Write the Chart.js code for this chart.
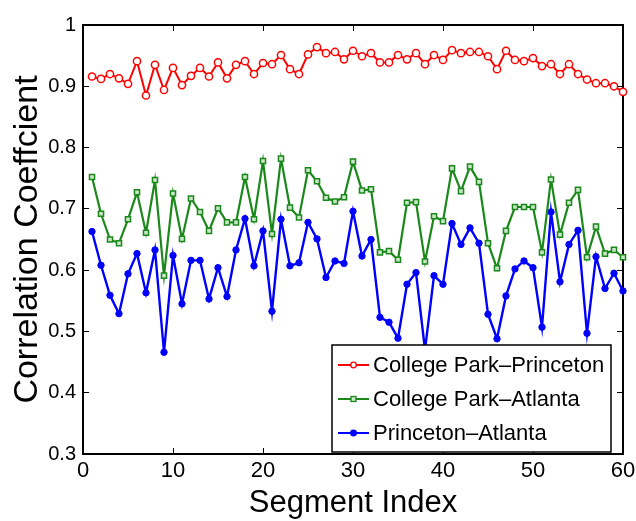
<!DOCTYPE html>
<html>
<head>
<meta charset="utf-8">
<title>Correlation Coefficient</title>
<script src="https://cdn.jsdelivr.net/npm/chart.js@4/dist/chart.umd.min.js"></script>
<style>
  html, body { margin: 0; padding: 0; background: #fff; }
  canvas { display: block; }
</style>
</head>
<body>
<canvas id="chart" width="636" height="521"></canvas>
<script>
// segment indices (x values)
const segmentIndex = [
  1, 2, 3, 4, 5, 6, 7, 8, 9, 10, 11, 12, 13, 14, 15, 16, 17, 18, 19, 20,
  21, 22, 23, 24, 25, 26, 27, 28, 29, 30, 31, 32, 33, 34, 35, 36, 37, 38, 39, 40,
  41, 42, 43, 44, 45, 46, 47, 48, 49, 50, 51, 52, 53, 54, 55, 56, 57, 58, 59, 60
];

const seriesNames = ["College Park\u2013Princeton", "College Park\u2013Atlanta", "Princeton\u2013Atlanta"];

// values
const collegeParkPrinceton = [
  0.916, 0.912, 0.920, 0.913, 0.904, 0.941, 0.885, 0.935, 0.894, 0.930,
  0.902, 0.917, 0.930, 0.916, 0.939, 0.913, 0.935, 0.941, 0.920, 0.938,
  0.936, 0.951, 0.928, 0.920, 0.952, 0.964, 0.954, 0.956, 0.944, 0.958,
  0.949, 0.954, 0.939, 0.939, 0.951, 0.944, 0.954, 0.936, 0.951, 0.943,
  0.959, 0.954, 0.956, 0.956, 0.949, 0.928, 0.958, 0.943, 0.941, 0.946,
  0.933, 0.936, 0.920, 0.936, 0.920, 0.911, 0.905, 0.905, 0.900, 0.891
];
const collegeParkAtlanta = [
  0.752, 0.692, 0.650, 0.644, 0.683, 0.727, 0.661, 0.747, 0.591, 0.725,
  0.651, 0.717, 0.695, 0.664, 0.701, 0.678, 0.678, 0.752, 0.683, 0.778,
  0.659, 0.782, 0.702, 0.686, 0.763, 0.745, 0.718, 0.712, 0.719, 0.777,
  0.730, 0.732, 0.629, 0.631, 0.617, 0.710, 0.711, 0.614, 0.688, 0.680,
  0.766, 0.729, 0.769, 0.744, 0.644, 0.603, 0.664, 0.703, 0.703, 0.703,
  0.629, 0.748, 0.658, 0.710, 0.731, 0.621, 0.671, 0.627, 0.633, 0.621
];
const princetonAtlanta = [
  0.663, 0.608, 0.559, 0.529, 0.594, 0.627, 0.563, 0.633, 0.466, 0.624,
  0.545, 0.616, 0.616, 0.553, 0.604, 0.557, 0.633, 0.684, 0.607, 0.664,
  0.533, 0.683, 0.607, 0.612, 0.678, 0.651, 0.588, 0.615, 0.611, 0.696,
  0.623, 0.650, 0.523, 0.515, 0.489, 0.577, 0.596, 0.470, 0.591, 0.577,
  0.676, 0.642, 0.669, 0.644, 0.528, 0.488, 0.558, 0.602, 0.615, 0.604,
  0.507, 0.695, 0.581, 0.642, 0.665, 0.497, 0.622, 0.570, 0.595, 0.566
];

const xTickValues = [0, 10, 20, 30, 40, 50, 60];
const xTickLabels = ["0", "10", "20", "30", "40", "50", "60"];
const yTickValues = [0.3, 0.4, 0.5, 0.6, 0.7, 0.8, 0.9, 1.0];
const yTickLabels = ["0.3", "0.4", "0.5", "0.6", "0.7", "0.8", "0.9", "1"];

const RED = "#ff0000";
const GREEN = "#1a881a";
const BLUE = "#0000ff";
const FONT = "'Liberation Sans', Arial, sans-serif";

function toPoints(values) {
  return values.map((v, i) => ({ x: segmentIndex[i], y: v }));
}

// legend box in the lower right, white so it hides the lines under it
const boxLegend = {
  id: "boxLegend",
  afterDatasetsDraw(chart) {
    const { ctx, chartArea: a } = chart;
    const w = 279, h = 107;
    const left = a.right - 12 - w;
    const top = a.bottom - 2 - h;
    ctx.save();
    ctx.fillStyle = "#fff";
    ctx.fillRect(left, top, w, h);
    ctx.strokeStyle = "#000";
    ctx.lineWidth = 1.5;
    ctx.strokeRect(left, top, w, h);

    chart.data.datasets.forEach((ds, i) => {
      const y = top + 20 + i * 34;
      const x0 = left + 6, x1 = left + 37;
      const xm = (x0 + x1) / 2;
      ctx.strokeStyle = ds.borderColor;
      ctx.lineWidth = 2;
      ctx.beginPath();
      ctx.moveTo(x0, y);
      ctx.lineTo(x1, y);
      ctx.stroke();
      ctx.lineWidth = 1.3;
      ctx.fillStyle = ds.pointBackgroundColor;
      if (ds.pointStyle === "rect") {
        ctx.fillRect(xm - 2.5, y - 2.5, 5, 5);
        ctx.strokeRect(xm - 2.5, y - 2.5, 5, 5);
      } else {
        ctx.beginPath();
        ctx.arc(xm, y, 2.8, 0, Math.PI * 2);
        ctx.fill();
        ctx.stroke();
      }
      ctx.fillStyle = "#000";
      ctx.font = "22px " + FONT;
      ctx.textBaseline = "middle";
      ctx.textAlign = "left";
      ctx.fillText(ds.label, left + 41, y + 1);
    });
    ctx.restore();
  },
};

// matlab style box: black border and short inward ticks (negative tickLength)
const boxGrid = { display: true, drawOnChartArea: false, drawTicks: true, tickLength: -6, color: "#000", lineWidth: 1 };
const boxBorder = { display: true, color: "#000", width: 2 };

const config = {
  type: "line",
  data: {
    datasets: [
      {
        label: seriesNames[0],
        data: toPoints(collegeParkPrinceton),
        borderColor: RED,
        borderWidth: 2,
        pointStyle: "circle",
        pointRadius: 3.6,
        pointBorderWidth: 1.5,
        pointBorderColor: RED,
        pointBackgroundColor: "#fff",
        clip: false,
      },
      {
        label: seriesNames[1],
        data: toPoints(collegeParkAtlanta),
        borderColor: GREEN,
        borderWidth: 2.2,
        pointStyle: "rect",
        pointRadius: 3.6,
        pointBorderWidth: 1.5,
        pointBorderColor: GREEN,
        pointBackgroundColor: "#c9e6c9",
        clip: false,
      },
      {
        label: seriesNames[2],
        data: toPoints(princetonAtlanta),
        borderColor: BLUE,
        borderWidth: 2.4,
        pointStyle: "circle",
        pointRadius: 3.2,
        pointBorderWidth: 1,
        pointBorderColor: BLUE,
        pointBackgroundColor: BLUE,
        clip: false,
      },
    ],
  },
  options: {
    responsive: false,
    animation: false,
    devicePixelRatio: 1,
    layout: { padding: { left: 0, right: 0, top: 22, bottom: 0 } },
    plugins: {
      legend: { display: false },
      tooltip: { enabled: false },
    },
    scales: {
      x: {
        type: "linear",
        position: "bottom",
        min: 0,
        max: 60,
        grid: boxGrid,
        border: boxBorder,
        afterBuildTicks: (scale) => {
          scale.ticks = xTickValues.map((v) => ({ value: v }));
        },
        afterFit: (scale) => {
          scale.height = 67;
          // room for the "60" label only, not the label padding
          scale.paddingRight = 13;
          scale.paddingLeft = 8;
        },
        ticks: {
          color: "#000",
          padding: 10,
          maxRotation: 0,
          font: { family: FONT, size: 22 },
          callback: (v, i) => xTickLabels[i],
        },
        title: {
          display: true,
          text: "Segment Index",
          color: "#000",
          font: { family: FONT, size: 31, lineHeight: 1.1 },
          padding: { top: 0, bottom: 0 },
        },
      },
      xTop: {
        type: "linear",
        position: "top",
        min: 0,
        max: 60,
        grid: boxGrid,
        border: boxBorder,
        afterBuildTicks: (scale) => {
          scale.ticks = xTickValues.map((v) => ({ value: v }));
        },
        afterFit: (scale) => {
          scale.height = 0;
          scale.paddingRight = 0;
          scale.paddingLeft = 0;
        },
        ticks: { display: false },
      },
      y: {
        type: "linear",
        position: "left",
        min: 0.3,
        max: 1,
        grid: boxGrid,
        border: boxBorder,
        afterBuildTicks: (scale) => {
          scale.ticks = yTickValues.map((v) => ({ value: v }));
        },
        afterFit: (scale) => {
          scale.width = 83;
        },
        ticks: {
          color: "#000",
          padding: 13,
          font: { family: FONT, size: 20 },
          callback: (v, i) => yTickLabels[i],
        },
        title: {
          display: true,
          text: "Correlation Coeffcient",
          color: "#000",
          font: { family: FONT, size: 34, lineHeight: 1.0 },
          padding: { top: 11, bottom: 0 },
        },
      },
      yRight: {
        type: "linear",
        position: "right",
        min: 0.3,
        max: 1,
        grid: boxGrid,
        border: boxBorder,
        afterBuildTicks: (scale) => {
          scale.ticks = yTickValues.map((v) => ({ value: v }));
        },
        afterFit: (scale) => {
          scale.width = 0;
        },
        ticks: { display: false },
      },
    },
  },
  plugins: [boxLegend],
};

new Chart(document.getElementById("chart"), config);
</script>
</body>
</html>
